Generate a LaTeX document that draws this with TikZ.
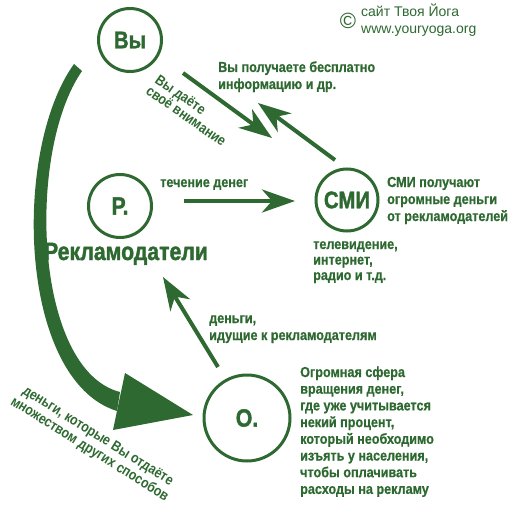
\documentclass[tikz,border=0pt]{standalone}
\usepackage{fontspec}
\setmainfont{Liberation Sans}
\newfontfamily\imp{Liberation Sans}[FakeStretch=0.87, FakeBold=0.6]
\newfontfamily\impbig{Liberation Sans}[FakeStretch=0.85, FakeBold=1.5]
\newfontfamily\improt{Liberation Sans}
\usetikzlibrary{arrows.meta}
\definecolor{gr}{RGB}{45,105,48}
\begin{document}
\begin{tikzpicture}[x=1pt,y=-1pt,
  circ/.style={circle, draw=gr, line width=3pt, minimum size=#1, inner sep=0pt, text=gr,
    font=\impbig\bfseries\fontsize{25}{25}\selectfont},
  lbl/.style={text=gr, inner sep=0pt, anchor=base west, font=\imp\bfseries\fontsize{14.5}{17}\selectfont},
  rlbl/.style={text=gr, inner sep=0pt, anchor=base west, font=\improt\bfseries\fontsize{14.5}{17}\selectfont},
  arr/.style={draw=gr, line width=4pt, -{Stealth[length=33pt,width=23pt,inset=10pt]}},
  copy/.style={text=gr, inner sep=0pt, anchor=base west, font=\fontsize{14}{16}\selectfont}]
\useasboundingbox (0,0) rectangle (511,516);
\fill[white] (0,0) rectangle (511,516);

% circles
\node[circ=63pt, font=\impbig\bfseries\fontsize{24}{24}\selectfont] (vy) at (130,40) {Вы};
\node[circ=63pt] (rek) at (120,206) {Р.};
\node[circ=62pt, font=\impbig\bfseries\fontsize{24}{24}\selectfont] (smi) at (347,200) {СМИ};
\node[circ=86pt] (o) at (247,418) {О.};
\node[text=gr, inner sep=0pt, anchor=base, font=\impbig\bfseries\fontsize{25}{25}\selectfont] (rekl) at (126,260) {Рекламодатели};

% copyright
\node[text=gr, inner sep=0pt, font=\fontsize{22}{22}\selectfont] (cr) at (348,21) {©};
\node[copy] (site1) at (361,17) {сайт Твоя Йога};
\node[copy] (site2) at (361,34) {www.youryoga.org};

% big curved arrow from Вы to О.
\coordinate (bs1) at (74,64);
\coordinate (bs2) at (82,71);
\coordinate (be1) at (117,411);
\coordinate (be2) at (120,392);
\fill[gr] (bs1) .. controls (12,150) and (18,380) .. (be1) -- (be2)
  .. controls (34,370) and (26,152) .. (bs2) -- cycle;
\coordinate (h1) at (125,373);
\coordinate (h2) at (193,415);
\coordinate (h3) at (113,430);
\fill[gr] (h1) -- (h2) -- (h3) -- cycle;

% straight arrows
\coordinate (a1s) at (183,73);  \coordinate (a1e) at (272,138);
\coordinate (a2s) at (335,160); \coordinate (a2e) at (258,103);
\coordinate (a3s) at (184,201); \coordinate (a3e) at (295,201);
\coordinate (a4s) at (218,367); \coordinate (a4e) at (163,277);
\draw[arr] (a1s) -- (a1e);
\draw[arr] (a2s) -- (a2e);
\draw[arr] (a3s) -- (a3e);
\draw[arr] (a4s) -- (a4e);

% labels
\node[lbl] (t1a) at (218,72) {Вы получаете бесплатно};
\node[lbl] (t1b) at (218,89) {информацию и др.};
\node[rlbl, rotate=-35] (t2a) at (154,82) {\scalebox{0.86}[1]{Вы даёте}};
\node[rlbl, rotate=-35] (t2b) at (145,93) {\scalebox{0.86}[1]{своё внимание}};
\node[lbl] (t3) at (160,187) {течение денег};
\node[lbl] (t4a) at (387,187) {СМИ получают};
\node[lbl] (t4b) at (387,204) {огромные деньги};
\node[lbl] (t4c) at (387,221) {от рекламодателей};
\node[lbl] (t5a) at (313,249) {телевидение,};
\node[lbl] (t5b) at (313,264.5) {интернет,};
\node[lbl] (t5c) at (313,280) {радио и т.д.};
\node[lbl] (t6a) at (209,323) {деньги,};
\node[lbl] (t6b) at (209,340) {идущие к рекламодателям};
\node[lbl] (t7a) at (300,377) {Огромная сфера};
\node[lbl] (t7b) at (300,393.7) {вращения денег,};
\node[lbl] (t7c) at (300,410.4) {где уже учитывается};
\node[lbl] (t7d) at (300,427.1) {некий процент,};
\node[lbl] (t7e) at (300,443.8) {который необходимо};
\node[lbl] (t7f) at (300,460.5) {изъять у населения,};
\node[lbl] (t7g) at (300,477.2) {чтобы оплачивать};
\node[lbl] (t7h) at (300,493.9) {расходы на рекламу};
\node[rlbl, rotate=-32] (t8a) at (21.6,393) {\scalebox{0.85}[1]{деньги, которые Вы отдаёте}};
\node[rlbl, rotate=-32] (t8b) at (9.6,404) {\scalebox{0.85}[1]{множеством других способов}};
\end{tikzpicture}
\end{document}
